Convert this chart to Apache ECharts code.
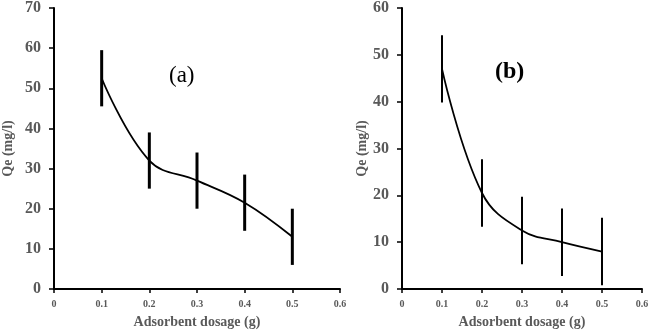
<!DOCTYPE html>
<html>
<head>
<meta charset="utf-8">
<script src="https://cdn.jsdelivr.net/npm/echarts@6/dist/echarts.min.js"></script>
<style>
  html, body { margin: 0; padding: 0; background: #fff; }
  #chart { width: 652px; height: 334px; }
</style>
</head>
<body>
<div id="chart"></div>
<script>
// dosage (g)
const dosage = [0.1, 0.2, 0.3, 0.4, 0.5]

// panel (a)
const qeA = [52.5, 32, 27, 21.5, 13]
const errA = [7, 7, 7, 7, 7]

// panel (b)
const qeB = [47, 20.5, 12.5, 10, 8]
const errB = [7.2, 7.2, 7.2, 7.2, 7.2]

const SERIF = 'Liberation Serif'
const GREY = '#595959'

function pairs(ys) {
  return dosage.map((x, i) => [x, ys[i]])
}

function bars(ys, errs) {
  return dosage.map((x, i) => [x, ys[i] - errs[i], ys[i] + errs[i]])
}

function errorBarRenderer(width) {
  return function (params, api) {
    const lo = api.coord([api.value(0), api.value(1)])
    const hi = api.coord([api.value(0), api.value(2)])
    return {
      type: 'line',
      shape: { x1: lo[0], y1: lo[1], x2: hi[0], y2: hi[1] },
      style: { stroke: '#000', lineWidth: width },
    }
  }
}

function xAxis(gridIndex) {
  return {
    type: 'value',
    gridIndex,
    min: 0,
    max: 0.6,
    interval: 0.1,
    name: 'Adsorbent dosage (g)',
    nameLocation: 'middle',
    nameGap: 26,
    nameTextStyle: { fontFamily: SERIF, fontWeight: 'bold', fontSize: 14, color: GREY },
    axisLine: { lineStyle: { color: '#000', width: 2 } },
    axisTick: { show: true, length: 4, lineStyle: { color: '#000', width: 1.5 } },
    axisLabel: {
      fontFamily: SERIF, fontWeight: 'bold', fontSize: 10, color: GREY, margin: 10,
      formatter: v => (v === 0 ? '0' : v.toFixed(1)),
    },
    splitLine: { show: false },
  }
}

function yAxis(gridIndex, max, nameGap) {
  return {
    type: 'value',
    gridIndex,
    min: 0,
    max,
    interval: 10,
    name: 'Qe (mg/l)',
    nameLocation: 'middle',
    nameRotate: 90,
    nameGap,
    nameTextStyle: { fontFamily: SERIF, fontWeight: 'bold', fontSize: 14, color: GREY },
    axisLine: { show: true, lineStyle: { color: '#000', width: 2 } },
    axisTick: { show: true, length: 5, lineStyle: { color: '#000', width: 1.5 } },
    axisLabel: { fontFamily: SERIF, fontWeight: 'bold', fontSize: 16, color: GREY, margin: 13 },
    splitLine: { show: false },
  }
}

const chart = echarts.init(document.getElementById('chart'), null, { renderer: 'canvas' })

chart.setOption({
  backgroundColor: '#fff',
  animation: false,
  grid: [
    { left: 54, top: 7.5, width: 286, height: 283.5 },
    { left: 402, top: 7.3, width: 240, height: 282.7 },
  ],
  xAxis: [xAxis(0), xAxis(1)],
  yAxis: [yAxis(0, 70, 39), yAxis(1, 60, 33)],
  graphic: [
    {
      type: 'text', left: 169, top: 64,
      style: { text: '(a)', font: '23px "Liberation Serif"', fill: '#000' },
    },
    {
      type: 'text', left: 495, top: 60,
      style: { text: '(b)', font: 'bold 24px "Liberation Serif"', fill: '#000' },
    },
  ],
  series: [
    {
      type: 'line', xAxisIndex: 0, yAxisIndex: 0,
      data: pairs(qeA), smooth: 0.4, symbol: 'none',
      lineStyle: { color: '#000', width: 1.8 },
    },
    {
      type: 'custom', xAxisIndex: 0, yAxisIndex: 0,
      data: bars(qeA, errA), renderItem: errorBarRenderer(3),
      encode: { x: 0, y: [1, 2] },
    },
    {
      type: 'line', xAxisIndex: 1, yAxisIndex: 1,
      data: pairs(qeB), smooth: 0.4, symbol: 'none',
      lineStyle: { color: '#000', width: 1.8 },
    },
    {
      type: 'custom', xAxisIndex: 1, yAxisIndex: 1,
      data: bars(qeB, errB), renderItem: errorBarRenderer(2),
      encode: { x: 0, y: [1, 2] },
    },
  ],
})
</script>
</body>
</html>
